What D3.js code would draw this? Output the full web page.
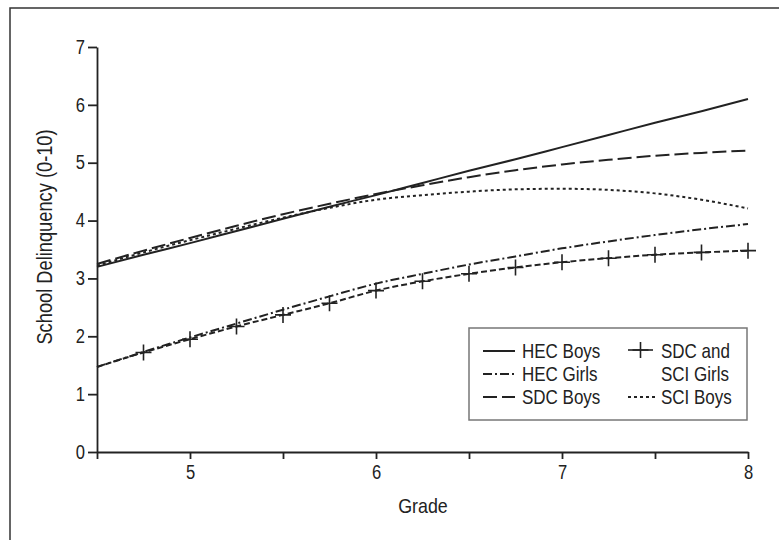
<!DOCTYPE html>
<html>
<head>
<meta charset="utf-8">
<script src="https://cdn.jsdelivr.net/npm/d3@7"></script>
<style>
  body { margin: 0; background: #fff; }
  text { font-family: "Liberation Sans", Arial, sans-serif; fill: #222; }
</style>
</head>
<body>
<div id="chart"></div>
<script>
// grade points (every quarter grade)
const grades = [4.5, 4.75, 5, 5.25, 5.5, 5.75, 6, 6.25, 6.5, 6.75, 7, 7.25, 7.5, 7.75, 8];

const hecBoys  = [3.20, 3.41, 3.61, 3.82, 4.03, 4.24, 4.44, 4.65, 4.86, 5.06, 5.27, 5.48, 5.69, 5.89, 6.10];
const sdcBoys  = [3.25, 3.48, 3.70, 3.91, 4.11, 4.29, 4.46, 4.61, 4.75, 4.87, 4.97, 5.05, 5.12, 5.17, 5.21];
const sciBoys  = [3.22, 3.45, 3.66, 3.86, 4.05, 4.22, 4.36, 4.44, 4.50, 4.54, 4.55, 4.53, 4.47, 4.36, 4.21];
const hecGirls = [1.47, 1.73, 1.98, 2.22, 2.46, 2.69, 2.91, 3.08, 3.24, 3.38, 3.52, 3.64, 3.75, 3.85, 3.94];
const sdcSciGirls = [1.47, 1.72, 1.95, 2.17, 2.37, 2.57, 2.79, 2.95, 3.08, 3.19, 3.28, 3.35, 3.41, 3.45, 3.48];

const xTicks = [4.5, 5, 5.5, 6, 6.5, 7, 7.5, 8];
const xTickLabels = ["", "5", "", "6", "", "7", "", "8"];
const yTicks = [0, 1, 2, 3, 4, 5, 6, 7];

const W = 779, H = 540;
const NARROW = 0.85; // squeeze Liberation Sans into a condensed face
const svg = d3.select("#chart").append("svg").attr("width", W).attr("height", H);

// frame (only top and left edges visible)
svg.append("rect")
    .attr("x", 10).attr("y", 8)
    .attr("width", W + 20).attr("height", H + 20)
    .attr("fill", "none")
    .attr("stroke", "#333")
    .attr("stroke-width", 1.5);

const x = d3.scaleLinear().domain([4.5, 8]).range([97, 748]);
const y = d3.scaleLinear().domain([0, 7]).range([452, 47]);

function narrowTicks(g, size) {
    g.selectAll(".tick text").each(function () {
        const t = d3.select(this);
        const tx = +t.attr("x") || 0;
        t.attr("x", tx / NARROW)
         .attr("transform", "scale(" + NARROW + ",1)")
         .style("font-size", size + "px")
         .attr("fill", "#222");
    });
}

const xAxis = svg.append("g")
    .attr("transform", "translate(0," + y(0) + ")")
    .call(d3.axisBottom(x).tickValues(xTicks).tickFormat((d, i) => xTickLabels[i]).tickSize(7).tickSizeOuter(0).tickPadding(6));
xAxis.select(".domain").attr("stroke", "#222").attr("stroke-width", 1.8);
xAxis.selectAll(".tick line").attr("stroke", "#222").attr("stroke-width", 1.8);
narrowTicks(xAxis, 19.5);

const yAxis = svg.append("g")
    .attr("transform", "translate(" + x(4.5) + ",0)")
    .call(d3.axisLeft(y).tickValues(yTicks).tickFormat(d3.format("d")).tickSize(9).tickSizeOuter(0).tickPadding(3));
yAxis.select(".domain").attr("stroke", "#222").attr("stroke-width", 1.8);
yAxis.selectAll(".tick line").attr("stroke", "#222").attr("stroke-width", 1.8);
narrowTicks(yAxis, 19.5);

function narrowText(px, py, str, size, rot) {
    const g = svg.append("g")
        .attr("transform", "translate(" + px + "," + py + ")" + (rot ? " rotate(" + rot + ")" : ""));
    return g.append("text")
        .attr("transform", "scale(" + NARROW + ",1)")
        .attr("text-anchor", "middle")
        .style("font-size", size + "px")
        .text(str);
}

narrowText(423, 513, "Grade", 21);
narrowText(52, 237, "School Delinquency (0-10)", 21.5, -90);

const series = [
    { name: "HEC Boys", values: hecBoys, dash: null },
    { name: "SDC Boys", values: sdcBoys, dash: "14,5" },
    { name: "SCI Boys", values: sciBoys, dash: "3,3" },
    { name: "HEC Girls", values: hecGirls, dash: "9,3,2,3" },
    { name: "SDC and SCI Girls", values: sdcSciGirls, dash: "6,3" }
];

const line = d3.line()
    .x(d => x(d[0]))
    .y(d => y(d[1]))
    .curve(d3.curveMonotoneX);

series.forEach(s => {
    svg.append("path")
        .datum(grades.map((g, i) => [g, s.values[i]]))
        .attr("d", line)
        .attr("fill", "none")
        .attr("stroke", "#222")
        .attr("stroke-width", 2)
        .attr("stroke-dasharray", s.dash);
});

// + markers on the girls' SDC/SCI curve
function drawPlus(parent, cx, cy, size) {
    parent.append("path")
        .attr("d", "M" + (cx - size / 2) + "," + cy + "H" + (cx + size / 2) + "M" + cx + "," + (cy - size / 2) + "V" + (cy + size / 2))
        .attr("stroke", "#222")
        .attr("stroke-width", 1.6)
        .attr("fill", "none");
}
grades.slice(1).forEach((g, i) => drawPlus(svg, x(g), y(sdcSciGirls[i + 1]), 16));

// legend
const lg = svg.append("g");
lg.append("rect")
    .attr("x", 469).attr("y", 328)
    .attr("width", 278).attr("height", 92)
    .attr("fill", "#fff")
    .attr("stroke", "#777")
    .attr("stroke-width", 1.5);

const legendItems = [
    { label: ["HEC Boys"], dash: null, lx: 483, len: 32, ty: 351, tx: 522 },
    { label: ["HEC Girls"], dash: "9,3,2,3", lx: 483, len: 32, ty: 374, tx: 522 },
    { label: ["SDC Boys"], dash: "14,5", lx: 483, len: 32, ty: 397, tx: 522 },
    { label: ["SDC and", "SCI Girls"], dash: "plus", lx: 628, len: 25, ty: 351, tx: 661 },
    { label: ["SCI Boys"], dash: "3,3", lx: 628, len: 27, ty: 397, tx: 661 }
];

legendItems.forEach(it => {
    if (it.dash === "plus") {
        lg.append("line")
            .attr("x1", it.lx).attr("x2", it.lx + it.len)
            .attr("y1", it.ty - 1).attr("y2", it.ty - 1)
            .attr("stroke", "#222").attr("stroke-width", 1.6);
        drawPlus(lg, it.lx + it.len / 2, it.ty - 1, 16);
    } else {
        lg.append("line")
            .attr("x1", it.lx).attr("x2", it.lx + it.len)
            .attr("y1", it.ty).attr("y2", it.ty)
            .attr("stroke", "#222").attr("stroke-width", 2)
            .attr("stroke-dasharray", it.dash);
    }
    const t = lg.append("g")
        .attr("transform", "translate(" + it.tx + "," + (it.ty + 7) + ")")
        .append("text")
        .attr("transform", "scale(" + NARROW + ",1)")
        .style("font-size", "20px");
    it.label.forEach((l, j) => {
        t.append("tspan").attr("x", 0).attr("dy", j === 0 ? 0 : 23).text(l);
    });
});
</script>
</body>
</html>
